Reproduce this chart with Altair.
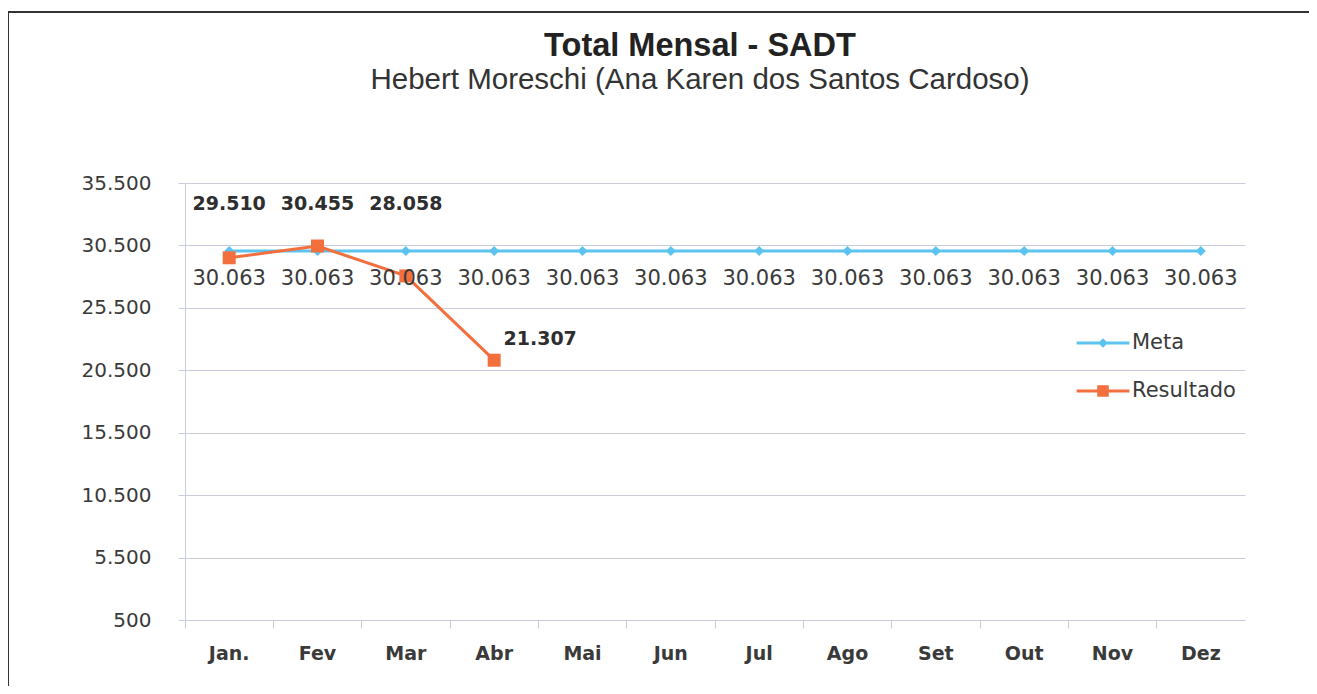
import altair as alt
import pandas as pd

# ---- data ----
meses = ["Jan.", "Fev", "Mar", "Abr", "Mai", "Jun", "Jul", "Ago", "Set", "Out", "Nov", "Dez"]
meta = [30063, 30063, 30063, 30063, 30063, 30063, 30063, 30063, 30063, 30063, 30063, 30063]
resultado = [29510, 30455, 28058, 21307]
y_ticks = [500, 5500, 10500, 15500, 20500, 25500, 30500, 35500]
series = ["Meta", "Resultado"]

BLUE = "#5BC3EE"
ORANGE = "#F36F3E"
GRID = "#C9CCDD"
TXT = "#3A3A3A"

fmt = "replace(format(datum.valor, ','), ',', '.')"

df_meta = pd.DataFrame({"mes": meses, "valor": meta, "serie": series[0]})
df_res = pd.DataFrame({"mes": meses[:len(resultado)], "valor": resultado, "serie": series[1]})
df_all = pd.concat([df_meta, df_res], ignore_index=True)
df_res_top = df_res.iloc[:3]
df_res_side = df_res.iloc[3:]

xscale = alt.Scale(type="band", domain=meses, paddingInner=0, paddingOuter=0)
yscale = alt.Scale(domain=[500, 35500], nice=False, zero=False)

def X(axis):
    return alt.X("mes:N", sort=meses, scale=xscale, bandPosition=0.5, axis=axis, title=None)

Y = alt.Y("valor:Q", scale=yscale, title=None,
          axis=alt.Axis(values=y_ticks, labelExpr="replace(format(datum.value, ','), ',', '.')",
                        grid=True, gridColor=GRID, gridWidth=1, tickColor=GRID, tickSize=7,
                        domainColor=GRID, labelPadding=27, labelFont="DejaVu Sans",
                        labelFontSize=20, labelColor=TXT))

tick_axis = alt.Axis(orient="bottom", bandPosition=0, labels=False, ticks=True, tickSize=8,
                     tickColor=GRID, domain=True, domainColor=GRID, grid=False, title=None)
label_axis = alt.Axis(orient="bottom", labels=True, ticks=False, domain=False, grid=False,
                      labelPadding=24, labelFont="DejaVu Sans", labelFontWeight="bold",
                      labelFontSize=19, labelColor=TXT, labelAngle=0, title=None)

meta_line = alt.Chart(df_meta).mark_line(color=BLUE, strokeWidth=3).encode(x=X(tick_axis), y=Y)
meta_pts = alt.Chart(df_meta).mark_point(shape="diamond", filled=True, size=100, color=BLUE,
                                         opacity=1).encode(x=X(label_axis), y="valor:Q")
res_line = alt.Chart(df_res).mark_line(color=ORANGE, strokeWidth=3).encode(x=X(None), y="valor:Q")
res_pts = alt.Chart(df_res).mark_square(size=169, color=ORANGE, opacity=1).encode(x=X(None), y="valor:Q")

meta_txt = alt.Chart(df_meta).transform_calculate(lbl=fmt).mark_text(
    dy=28, font="DejaVu Sans", fontSize=21, color=TXT).encode(x=X(None), y="valor:Q", text="lbl:N")
res_txt_top = alt.Chart(df_res_top).transform_calculate(lbl=fmt).mark_text(
    font="DejaVu Sans", fontSize=19, fontWeight="bold", color="#2E2E2E").encode(
    x=X(None), y=alt.value(21), text="lbl:N")
res_txt_side = alt.Chart(df_res_side).transform_calculate(lbl=fmt).mark_text(
    dx=46, dy=-21, font="DejaVu Sans", fontSize=19, fontWeight="bold", color="#2E2E2E").encode(
    x=X(None), y="valor:Q", text="lbl:N")

path_meta = "M-1.1,-0.06H1.1V0.06H-1.1Z M0,-0.2L0.2,0L0,0.2L-0.2,0Z"
path_res = "M-1.1,-0.06H1.1V0.06H-1.1Z M-0.24,-0.24H0.24V0.24H-0.24Z"
leg = alt.Legend(title=None, orient="none", legendX=894, legendY=136, padding=0, rowPadding=14,
                 symbolSize=2304, symbolStrokeWidth=0, symbolOpacity=1, labelOffset=5,
                 labelFont="DejaVu Sans", labelFontSize=21, labelColor=TXT)
legend_layer = alt.Chart(df_all).mark_point(filled=True, opacity=0).encode(
    x=X(None), y="valor:Q",
    color=alt.Color("serie:N", scale=alt.Scale(domain=series, range=[BLUE, ORANGE]), legend=leg),
    shape=alt.Shape("serie:N", scale=alt.Scale(domain=series, range=[path_meta, path_res]), legend=leg),
)

frame_top = alt.Chart(df_meta).mark_rule(color="#333333", strokeWidth=2).encode(
    x=alt.value(-177), x2=alt.value(1125), y=alt.value(-171))
frame_left = alt.Chart(df_meta).mark_rule(color="#333333", strokeWidth=2).encode(
    x=alt.value(-177), y=alt.value(-171), y2=alt.value(520))

chart = alt.layer(
    meta_line, meta_pts, res_line, res_pts, meta_txt, res_txt_top, res_txt_side, legend_layer,
    frame_top, frame_left,
).resolve_axis(x="independent").properties(
    width=1060, height=437,
    title=alt.TitleParams(
        text="Total Mensal - SADT",
        subtitle="Hebert Moreschi (Ana Karen dos Santos Cardoso)",
        font="Liberation Sans", fontSize=32.5, fontWeight="bold", color="#222222",
        subtitleFont="Liberation Sans", subtitleFontSize=29.5, subtitleFontWeight="normal",
        subtitleColor="#333333", anchor="middle", dx=-15, offset=-83, subtitlePadding=3,
    ),
    autosize=alt.AutoSizeParams(type="none"),
    padding={"left": 177, "top": 175, "right": 64, "bottom": 66},
).configure_view(stroke=None)

chart.save("out.html", embed_options={"renderer": "svg", "actions": False})
